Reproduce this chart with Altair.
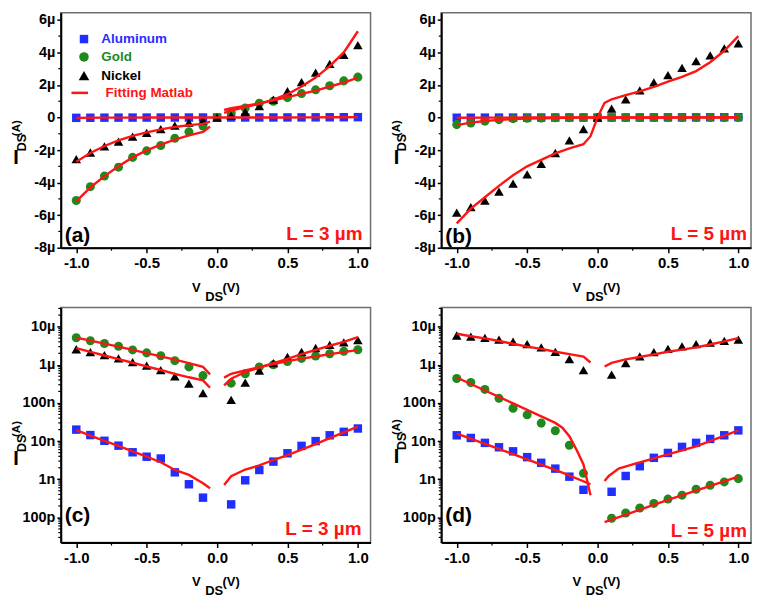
import math
import altair as alt
import pandas as pd

FONT = "Liberation Sans"
BLUE = "#1f2fff"
GREEN = "#1e8a1e"
BLACK = "#000000"
RED = "#ff1414"

SERIES = ["Aluminum", "Gold", "Nickel"]
SERIES_COLORS = [BLUE, GREEN, BLACK]
SERIES_SHAPES = ["square", "circle", "triangle-up"]
SERIES_SIZES = [72, 92, 112]

VDS = [-1.0, -0.9, -0.8, -0.7, -0.6, -0.5, -0.4, -0.3, -0.2, -0.1, 0.0,
       0.1, 0.2, 0.3, 0.4, 0.5, 0.6, 0.7, 0.8, 0.9, 1.0]

# measured I_DS (A), L = 3 um
AL_3 = [-20.0e-9, -14.4e-9, -10.2e-9, -7.6e-9, -5.1e-9, -3.9e-9, -3.5e-9, -1.52e-9, -0.74e-9, -0.33e-9, 0.0,
        0.22e-9, 0.94e-9, 1.75e-9, 2.9e-9, 4.8e-9, 7.5e-9, 10.0e-9, 14.2e-9, 17.5e-9, 21.4e-9]
AU_3 = [-5.1e-6, -4.25e-6, -3.6e-6, -3.05e-6, -2.45e-6, -2.05e-6, -1.72e-6, -1.28e-6, -0.88e-6, -0.52e-6, 0.0,
        0.33e-6, 0.58e-6, 0.88e-6, 1.0e-6, 1.22e-6, 1.47e-6, 1.7e-6, 1.95e-6, 2.25e-6, 2.48e-6]
NI_3 = [-2.55e-6, -2.15e-6, -1.78e-6, -1.48e-6, -1.17e-6, -0.95e-6, -0.72e-6, -0.5e-6, -0.32e-6, -0.18e-6, 0.0,
        0.12e-6, 0.34e-6, 0.7e-6, 1.1e-6, 1.62e-6, 2.18e-6, 2.75e-6, 3.3e-6, 3.85e-6, 4.45e-6]

# measured I_DS (A), L = 5 um
AL_5 = [-14.2e-9, -12.1e-9, -9.0e-9, -6.9e-9, -5.4e-9, -3.8e-9, -2.7e-9, -1.9e-9, -1.17e-9, -0.53e-9, 0.0,
        0.47e-9, 1.22e-9, 2.2e-9, 3.65e-9, 4.9e-9, 7.05e-9, 9.0e-9, 11.4e-9, 14.2e-9, 19.1e-9]
AU_5 = [-437e-9, -344e-9, -226e-9, -132e-9, -72.6e-9, -48.8e-9, -29.6e-9, -18.7e-9, -7.8e-9, -1.43e-9, 0.0,
        0.095e-9, 0.131e-9, 0.177e-9, 0.233e-9, 0.303e-9, 0.384e-9, 0.55e-9, 0.698e-9, 0.853e-9, 1.04e-9]
NI_5 = [-5.85e-6, -5.5e-6, -5.1e-6, -4.55e-6, -4.06e-6, -3.5e-6, -2.85e-6, -2.18e-6, -1.4e-6, -0.72e-6, 0.0,
        0.55e-6, 1.11e-6, 1.66e-6, 2.16e-6, 2.6e-6, 3.05e-6, 3.47e-6, 3.82e-6, 4.24e-6, 4.55e-6]

# Matlab fits, L = 3 um
FIT3_V_NEG = [-1.0, -0.9, -0.8, -0.7, -0.6, -0.5, -0.4, -0.3, -0.2, -0.1, -0.05]
FIT3_V_POS = [0.05, 0.1, 0.2, 0.3, 0.4, 0.5, 0.6, 0.7, 0.8, 0.9, 1.0]
AL_3_FIT_NEG = [-19.5e-9, -14.0e-9, -10.2e-9, -7.5e-9, -5.4e-9, -3.9e-9, -2.8e-9, -1.75e-9, -1.3e-9, -0.79e-9, -0.58e-9]
AL_3_FIT_POS = [0.71e-9, 1.2e-9, 1.8e-9, 2.3e-9, 3.2e-9, 4.3e-9, 6.0e-9, 8.3e-9, 12e-9, 17e-9, 24e-9]
AU_3_FIT_NEG = [-5.15e-6, -4.3e-6, -3.6e-6, -3.0e-6, -2.45e-6, -2.02e-6, -1.66e-6, -1.36e-6, -1.1e-6, -0.88e-6, -0.56e-6]
AU_3_FIT_POS = [0.46e-6, 0.58e-6, 0.71e-6, 0.87e-6, 1.05e-6, 1.25e-6, 1.45e-6, 1.65e-6, 1.9e-6, 2.15e-6, 2.45e-6]
NI_3_FIT_NEG = [-2.72e-6, -2.18e-6, -1.75e-6, -1.41e-6, -1.13e-6, -0.91e-6, -0.73e-6, -0.58e-6, -0.47e-6, -0.39e-6, -0.25e-6]
NI_3_FIT_POS = [0.29e-6, 0.43e-6, 0.645e-6, 0.84e-6, 1.1e-6, 1.43e-6, 1.9e-6, 2.45e-6, 3.15e-6, 4.0e-6, 5.3e-6]

# Matlab fits, L = 5 um
AL_5_FIT_V = [-1.0, -0.75, -0.5, -0.25, -0.05, 0.0, 0.05, 0.08, 0.15, 0.25, 0.5, 0.7, 1.0]
AL_5_FIT = [-15.7e-9, -7.3e-9, -3.3e-9, -1.5e-9, -0.74e-9, 0.0, 0.9e-9, 1.22e-9, 1.9e-9, 2.45e-9, 4.47e-9, 7.3e-9, 19.1e-9]
AU_5_FIT_V = [-1.0, -0.9, -0.8, -0.7, -0.6, -0.5, -0.4, -0.3, -0.25, -0.2, -0.15, -0.1, -0.05, 0.0, 0.05, 0.5, 1.0]
AU_5_FIT = [-465e-9, -314e-9, -212e-9, -144e-9, -97e-9, -65.6e-9, -44.4e-9, -30e-9, -22.4e-9, -13.4e-9, -6.0e-9,
            -2.45e-9, -0.38e-9, 0.0, 0.075e-9, 0.29e-9, 1.17e-9]
NI_5_FIT_V = [-1.0, -0.9, -0.8, -0.7, -0.6, -0.5, -0.4, -0.3, -0.2, -0.1, -0.05, 0.0,
              0.05, 0.1, 0.2, 0.3, 0.4, 0.5, 0.6, 0.7, 0.8, 0.9, 1.0]
NI_5_FIT = [-6.5e-6, -5.6e-6, -4.9e-6, -4.2e-6, -3.55e-6, -3.0e-6, -2.6e-6, -2.2e-6, -1.9e-6, -1.64e-6, -1.15e-6, 0.0,
            0.9e-6, 1.12e-6, 1.38e-6, 1.6e-6, 1.88e-6, 2.2e-6, 2.5e-6, 2.85e-6, 3.4e-6, 4.1e-6, 5.0e-6]

X_MAJOR = [-1.0, -0.5, 0.0, 0.5, 1.0]
X_MINOR = [-0.75, -0.25, 0.25, 0.75]
LIN_MAJOR = [-8e-6, -6e-6, -4e-6, -2e-6, 0.0, 2e-6, 4e-6, 6e-6]
LIN_MINOR = [-7e-6, -5e-6, -3e-6, -1e-6, 1e-6, 3e-6, 5e-6]
LOG_MAJOR = [1e-10, 1e-9, 1e-8, 1e-7, 1e-6, 1e-5]
LOG_MAJOR_TEXT = ["100p", "1n", "10n", "100n", "1µ", "10µ"]
LOG_DOMAIN = [2.2e-11, 3.17e-5]
LIN_DOMAIN = [-8e-6, 6.44e-6]
X_DOMAIN = [-1.11, 1.09]
LOG_MINOR = [k * 10.0 ** d for d in range(-11, -4) for k in range(2, 10)
             if LOG_DOMAIN[0] <= k * 10.0 ** d <= LOG_DOMAIN[1]]

W, H = 311, 236

# ---------- tables ----------
meas_rows = []
for L, arrs in (("3", (AL_3, AU_3, NI_3)), ("5", (AL_5, AU_5, NI_5))):
    for s, arr in zip(SERIES, arrs):
        for v, i in zip(VDS, arr):
            meas_rows.append({"L": L, "series": s, "V": v, "I": i, "absI": abs(i)})
meas = pd.DataFrame(meas_rows)

fit_defs = [
    ("3", "Aluminum", FIT3_V_NEG + [0.0] + FIT3_V_POS, AL_3_FIT_NEG + [0.0] + AL_3_FIT_POS, True),
    ("3", "Gold", FIT3_V_NEG + FIT3_V_POS, AU_3_FIT_NEG + AU_3_FIT_POS, False),
    ("3", "Nickel", FIT3_V_NEG + FIT3_V_POS, NI_3_FIT_NEG + NI_3_FIT_POS, False),
    ("5", "Aluminum", AL_5_FIT_V, AL_5_FIT, True),
    ("5", "Gold", AU_5_FIT_V, AU_5_FIT, True),
    ("5", "Nickel", NI_5_FIT_V, NI_5_FIT, True),
]
fit_rows = []
for L, s, vs, iss, joined in fit_defs:
    for v, i in zip(vs, iss):
        br = "neg" if v < 0 else ("pos" if v > 0 else "zero")
        fit_rows.append({"L": L, "series": s, "V": v, "I": i, "absI": abs(i),
                         "seg_log": s + br, "seg_lin": s if joined else s + br})
fits = pd.DataFrame(fit_rows)

LIN_LABEL = ("datum.value == 0 ? '0' : (datum.value < 0 ? '-' : '') + "
             "format(abs(datum.value) * 1e6, '.0f') + 'µ'")
LOG_LABEL = "".join(
    f"round(log(datum.value) / LN10) == {round(math.log10(v))} ? '{t}' : "
    for v, t in zip(LOG_MAJOR, LOG_MAJOR_TEXT)) + "''"
X_LABEL = ("datum.value == 0 ? '0.0' : (datum.value < 0 ? '-' : '') + "
           "format(abs(datum.value), '.1f')")

color_scale = alt.Scale(domain=SERIES, range=SERIES_COLORS)
shape_scale = alt.Scale(domain=SERIES, range=SERIES_SHAPES)
size_scale = alt.Scale(domain=SERIES, range=SERIES_SIZES)


def txt(s, x, y, size, color=BLACK, align="center", angle=None, baseline="middle"):
    enc = dict(x=alt.value(x), y=alt.value(y), text="t:N")
    mk = dict(font=FONT, fontWeight="bold", fontSize=size, color=color, align=align, baseline=baseline)
    if angle is not None:
        mk["angle"] = angle
        enc["angle"] = alt.value(angle)
    return alt.Chart(pd.DataFrame({"t": [s]})).mark_text(**mk).encode(**enc)


def panel(L, log, tag, tag_y, ltxt_y, ltxt_right, ytitle_dy, legend=False):
    m = meas[meas["L"] == L]
    f = fits[fits["L"] == L]
    x_scale = alt.Scale(domain=X_DOMAIN, nice=False, zero=False)
    x_axis = alt.Axis(values=X_MAJOR, labelExpr=X_LABEL, title=None, tickSize=5,
                      labelFontSize=15, labelPadding=3, labelFlush=False)
    if log:
        m = m[m["absI"] > 0]
        f = f[f["absI"] > 0]
        yf = "absI"
        seg = "seg_log"
        y_scale = alt.Scale(type="log", domain=LOG_DOMAIN, nice=False)
        y_axis = alt.Axis(values=LOG_MAJOR, labelExpr=LOG_LABEL, title=None, tickSize=4,
                          labelFontSize=14.5, labelPadding=2, labelOverlap=False)
        yminor = LOG_MINOR
    else:
        yf = "I"
        seg = "seg_lin"
        y_scale = alt.Scale(domain=LIN_DOMAIN, nice=False, zero=False)
        y_axis = alt.Axis(values=LIN_MAJOR, labelExpr=LIN_LABEL, title=None, tickSize=4,
                          labelFontSize=14.5, labelPadding=2)
        yminor = LIN_MINOR

    pts = alt.Chart(m).mark_point(filled=True, opacity=1).encode(
        x=alt.X("V:Q", scale=x_scale, axis=x_axis),
        y=alt.Y(f"{yf}:Q", scale=y_scale, axis=y_axis),
        color=alt.Color("series:N", scale=color_scale, legend=None),
        shape=alt.Shape("series:N", scale=shape_scale, legend=None),
        size=alt.Size("series:N", scale=size_scale, legend=None),
    )
    lines = alt.Chart(f).mark_line(color=RED, strokeWidth=2.4).encode(
        x=alt.X("V:Q", scale=x_scale, axis=x_axis),
        y=alt.Y(f"{yf}:Q", scale=y_scale, axis=y_axis),
        detail=f"{seg}:N",
    )
    ymin_t = alt.Chart(pd.DataFrame({"t": yminor})).mark_rule(color=BLACK, strokeWidth=1.2).encode(
        y=alt.Y("t:Q", scale=y_scale, axis=y_axis), x=alt.value(0), x2=alt.value(-2.5))
    xmin_t = alt.Chart(pd.DataFrame({"t": X_MINOR})).mark_rule(color=BLACK, strokeWidth=1.2).encode(
        x=alt.X("t:Q", scale=x_scale, axis=x_axis), y=alt.value(H), y2=alt.value(H + 3))

    layers = [pts, lines, ymin_t, xmin_t,
              txt(tag, 4, tag_y, 21, align="left"),
              txt(f"L = {L} µm", ltxt_right, ltxt_y, 19, color=RED, align="right"),
              # x title: V_DS (V)
              txt("V", 136, H + 40, 13),
              txt("DS", 154, H + 49, 13),
              txt("(V)", 171, H + 40, 13),
              # y title: I_DS (A), rotated
              txt("I", -45, 146 + ytitle_dy, 20),
              txt("DS", -39, 130.5 + ytitle_dy, 12.5, angle=270),
              txt("(A)", -44, 116 + ytitle_dy, 11.5, angle=270)]
    if legend:
        lx, tx = 23.3, 40.7
        rows = [26.5, 44.5, 63.2, 80.5]
        layers += [
            alt.Chart(pd.DataFrame({"a": [0]})).mark_point(shape="square", filled=True, opacity=1, color=BLUE, size=72)
            .encode(x=alt.value(lx), y=alt.value(rows[0])),
            alt.Chart(pd.DataFrame({"a": [0]})).mark_point(shape="circle", filled=True, opacity=1, color=GREEN, size=92)
            .encode(x=alt.value(lx), y=alt.value(rows[1])),
            alt.Chart(pd.DataFrame({"a": [0]})).mark_point(shape="triangle-up", filled=True, opacity=1, color=BLACK, size=112)
            .encode(x=alt.value(lx), y=alt.value(rows[2])),
            alt.Chart(pd.DataFrame({"a": [0]})).mark_rule(color=RED, strokeWidth=2.5)
            .encode(x=alt.value(10.7), x2=alt.value(27.3), y=alt.value(rows[3])),
            txt("Aluminum", tx, rows[0], 13.5, color=BLUE, align="left"),
            txt("Gold", tx, rows[1], 13.5, color=GREEN, align="left"),
            txt("Nickel", tx, rows[2], 13.5, color=BLACK, align="left"),
            txt("Fitting Matlab", 45, rows[3], 13.5, color=RED, align="left"),
        ]
    return alt.layer(*layers).properties(width=W, height=H)


pa = panel("3", False, "(a)", 224, 222, 303, 0, legend=True)
pb = panel("5", False, "(b)", 225, 222.5, 307, 0)
pc = panel("3", True, "(c)", 209.5, 222.5, 302, 6)
pd_ = panel("5", True, "(d)", 209.5, 224, 307, 4)

chart = alt.concat(pa, pb, pc, pd_, columns=2, spacing={"row": 2, "column": 19}).properties(
    padding={"left": 2, "top": 1.5, "right": 2, "bottom": 0}
).configure_view(
    stroke="#6e6e6e", strokeWidth=1.5
).configure_axis(
    domainColor=BLACK, domainWidth=2, tickColor=BLACK, tickWidth=1.5, grid=False,
    labelFont=FONT, labelFontWeight="bold", labelColor=BLACK
)

chart.save("out.html", embed_options={"renderer": "svg", "actions": False})
